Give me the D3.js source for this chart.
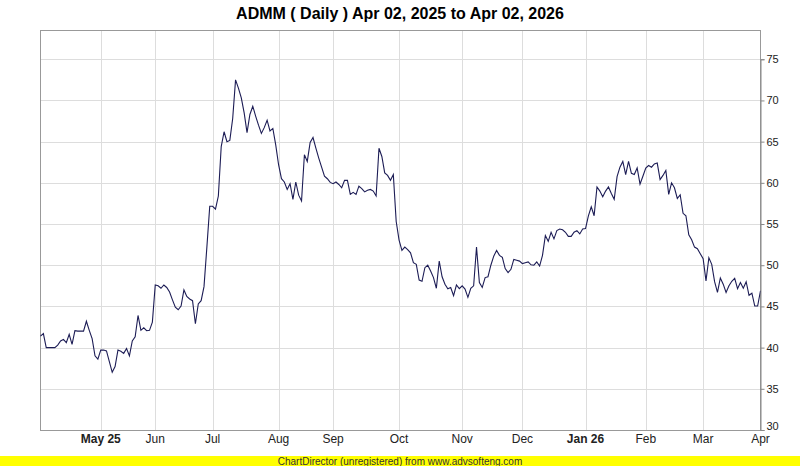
<!DOCTYPE html>
<html>
<head>
<meta charset="utf-8">
<script src="https://cdn.jsdelivr.net/npm/d3@7"></script>
<style>
  body { margin: 0; background: #fff; }
  svg { display: block; }
</style>
</head>
<body>
<div class="chart"></div>
<script>
// ADMM daily close, grouped by month
var apr25 = [41.4, 41.7, 40.0, 40.0, 40.0, 40.0, 40.3, 40.8, 41.0, 40.6, 41.6, 40.4, 42.05, 42.0, 42.0, 42.0, 43.2, 42.1, 41.1, 39.0, 38.6];
var may25 = [39.7, 39.7, 39.6, 38.3, 37.0, 37.7, 39.7, 39.55, 39.3, 39.9, 39.0, 40.8, 41.3, 43.9, 42.1, 42.4, 42.05, 42.1, 43.1];
var jun25 = [47.6, 47.5, 47.2, 47.6, 47.3, 46.75, 45.8, 44.9, 44.6, 45.05, 47.0, 46.2, 45.9, 45.7, 42.9, 45.3, 45.7, 47.4, 52.2, 57.15];
var jul25 = [57.15, 56.8, 58.4, 64.4, 66.2, 65.0, 65.15, 67.8, 72.5, 71.5, 70.3, 68.5, 66.1, 68.3, 69.3, 68.1, 67.0, 66.0, 66.7, 67.6, 66.3, 66.6, 64.6];
var aug25 = [62.2, 60.5, 60.1, 59.2, 59.9, 58.0, 60.1, 58.5, 57.8, 63.4, 62.6, 64.9, 65.5, 64.2, 63.0, 61.9, 60.8, 60.5, 60.05];
var sep25 = [59.9, 60.1, 59.8, 59.4, 60.3, 60.3, 58.6, 58.85, 58.6, 59.6, 59.3, 58.9, 59.1, 59.2, 59.0, 58.4, 64.2, 63.2, 61.2, 60.9, 60.3, 61.0, 55.3];
var oct25 = [53.05, 51.8, 52.2, 51.9, 51.5, 50.3, 50.1, 48.2, 48.05, 49.7, 50.0, 49.3, 48.5, 47.2, 50.5, 48.6, 47.7, 47.15, 47.3, 46.3, 47.6, 47.15];
var nov25 = [47.5, 47.1, 46.1, 47.2, 47.5, 52.2, 47.9, 47.3, 48.5, 48.6, 50.0, 51.1, 51.8, 51.2, 50.95, 49.6, 49.1, 49.5, 50.7, 50.6, 50.5];
var dec25 = [50.2, 50.3, 50.4, 50.05, 50.0, 50.4, 49.9, 51.2, 53.6, 52.9, 54.0, 53.2, 54.2, 54.4, 54.3, 54.0, 53.5, 53.5, 54.0, 54.2, 53.8, 54.4];
var jan26 = [54.45, 56.0, 57.1, 56.0, 59.5, 59.0, 58.3, 59.0, 59.5, 58.7, 58.0, 60.75, 61.9, 62.6, 61.0, 62.6, 61.15, 61.0, 61.8, 59.85, 60.8];
var feb26 = [61.8, 62.1, 61.9, 62.3, 62.4, 60.4, 60.9, 61.5, 58.6, 60.0, 59.4, 58.1, 58.55, 56.3, 56.0, 53.7, 53.1, 52.2, 52.0, 51.4];
var mar26 = [50.8, 48.1, 50.9, 50.1, 48.0, 46.7, 48.45, 47.7, 46.7, 47.5, 48.05, 48.4, 47.15, 47.9, 47.2, 48.0, 46.35, 46.6, 45.05, 45.05];
var apr26 = [46.9];

var months = [apr25, may25, jun25, jul25, aug25, sep25, oct25, nov25, dec25, jan26, feb26, mar26, apr26];
var monthLabels = ["", "May 25", "Jun", "Jul", "Aug", "Sep", "Oct", "Nov", "Dec", "Jan 26", "Feb", "Mar", "Apr"];
var yTicks = [30, 35, 40, 45, 50, 55, 60, 65, 70, 75];

var title = "ADMM ( Daily ) Apr 02, 2025 to Apr 02, 2026";
var footer = "ChartDirector (unregistered) from www.advsofteng.com";

var W = 800, H = 466;
var margin = {top: 30, right: 40, bottom: 36, left: 40};
var width = W - margin.left - margin.right,
    height = H - margin.top - margin.bottom;

// flatten + remember where each month starts
var values = [], starts = [];
months.forEach(function(m) {
  starts.push(values.length);
  m.forEach(function(v) { values.push(v); });
});

var xc = d3.scaleLinear().domain([0, values.length - 1]).range([0.5, width + 0.5]);
var yc = d3.scaleLinear().domain([30, 75]).range([height, height - 45 * height / 48.55]);

var svg = d3.select(".chart").append("svg")
  .attr("width", W).attr("height", H);

svg.append("text")
  .attr("x", W / 2).attr("y", 19)
  .attr("text-anchor", "middle")
  .style("font-family", "'Liberation Sans Narrow', 'Liberation Sans', Arial, sans-serif")
  .style("font-weight", "bold")
  .style("font-size", "16px")
  .text(title);

var chart = svg.append("g")
  .attr("transform", "translate(" + margin.left + "," + margin.top + ")");

// grid
chart.selectAll(".hgrid").data(yTicks.slice(1))
  .enter().append("line")
  .attr("x1", 0).attr("x2", width)
  .attr("y1", function(d) { return Math.round(yc(d)) + 0.5; })
  .attr("y2", function(d) { return Math.round(yc(d)) + 0.5; })
  .attr("stroke", "#dddddd");

var tickIdx = starts.slice(1);
chart.selectAll(".vgrid").data(tickIdx.slice(0, -1))
  .enter().append("line")
  .attr("x1", function(d) { return Math.round(xc(d)) + 0.5; })
  .attr("x2", function(d) { return Math.round(xc(d)) + 0.5; })
  .attr("y1", 0).attr("y2", height)
  .attr("stroke", "#dddddd");

// plot border
chart.append("rect")
  .attr("x", 0.5).attr("y", 0.5)
  .attr("width", width).attr("height", height)
  .attr("fill", "none").attr("stroke", "#999999");

// price line
var line = d3.line()
  .x(function(d, i) { return xc(i); })
  .y(function(d) { return yc(d); });

chart.append("path")
  .datum(values)
  .attr("d", line)
  .attr("fill", "none")
  .attr("stroke", "#1c1c55")
  .attr("stroke-width", 1.1);

// right y axis
var yAxis = d3.axisRight(yc).tickValues(yTicks).tickSize(4).tickPadding(2).tickFormat(d3.format("d"));
var ya = chart.append("g")
  .attr("transform", "translate(" + (width + 0.5) + ",0)")
  .call(yAxis);
ya.select(".domain").attr("stroke", "#888888");
ya.selectAll(".tick line").attr("stroke", "#888888");
ya.selectAll("text")
  .style("font-family", "'Liberation Sans', Arial, sans-serif")
  .style("font-size", "11px")
  .attr("fill", "#222");
ya.selectAll(".tick").filter(function(d) { return d === 30; })
  .select("text").attr("dy", "-0.05em");

// month labels
chart.selectAll(".mlabel").data(tickIdx)
  .enter().append("text")
  .attr("x", function(d) { return xc(d); })
  .attr("y", height + 13)
  .attr("text-anchor", "middle")
  .style("font-family", "'Liberation Sans Narrow', 'Liberation Sans', Arial, sans-serif")
  .style("font-size", "12px")
  .style("font-weight", function(d, i) { return /\d/.test(monthLabels[i + 1]) ? "bold" : "normal"; })
  .attr("fill", "#222")
  .text(function(d, i) { return monthLabels[i + 1]; });

// footer band
svg.append("rect")
  .attr("x", 0).attr("y", 456)
  .attr("width", W).attr("height", 10)
  .attr("fill", "#ffff00");
svg.append("text")
  .attr("x", W / 2).attr("y", 464.5)
  .attr("text-anchor", "middle")
  .style("font-family", "'Liberation Sans Narrow', 'Liberation Sans', Arial, sans-serif")
  .style("font-size", "10px")
  .attr("fill", "#333")
  .text(footer);
</script>
</body>
</html>
